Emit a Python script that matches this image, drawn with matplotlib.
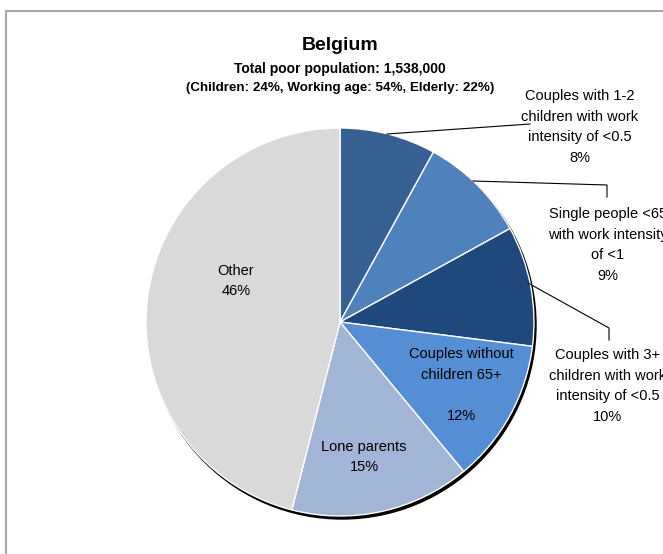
import matplotlib.pyplot as plt
from matplotlib.patches import Circle, Rectangle

plt.rcParams['font.family'] = ['Liberation Sans', 'DejaVu Sans']

# data
groups = ["Couples with 1-2\nchildren with work\nintensity of <0.5",
          "Single people <65\nwith work intensity\nof <1",
          "Couples with 3+\nchildren with work\nintensity of <0.5",
          "Couples without\nchildren 65+\n",
          "Lone parents",
          "Other"]
shares = [8, 9, 10, 12, 15, 46]
colors = ["#366092", "#4f81bd", "#1f497d", "#558ed5", "#a3b5d6", "#d9d9d9"]

W, H = 663, 554
fig = plt.figure(figsize=(W / 100, H / 100), dpi=100)
ax = fig.add_axes([0, 0, 1, 1])
ax.set_xlim(0, W)
ax.set_ylim(0, H)
ax.set_aspect('equal')
ax.axis('off')

# pixel helpers (y measured from top)
def P(x, y):
    return (x, H - y)

cx, cy = P(340, 322)
r = 194

# outer frame (clipped by the image edge on the right/bottom)
ax.add_patch(Rectangle((6, -20), 800, H - 11 + 20, fill=False,
                       edgecolor="#a6a6a6", lw=1.5))

# shadow
ax.add_patch(Circle((cx + 2, cy - 3), r, color="black", zorder=1))

wedges, _ = ax.pie(shares, colors=colors, startangle=90, counterclock=False,
                   center=(cx, cy), radius=r,
                   wedgeprops=dict(edgecolor="white", linewidth=1))
for w in wedges:
    w.set_zorder(2)
ax.set_xlim(0, W)
ax.set_ylim(0, H)

# titles
ax.text(*P(340, 45), "Belgium", ha="center", va="center",
        fontsize=14, fontweight="bold")
ax.text(*P(340, 69), "Total poor population: 1,538,000", ha="center",
        va="center", fontsize=10, fontweight="bold")
ax.text(*P(340, 88), "(Children: 24%, Working age: 54%, Elderly: 22%)",
        ha="center", va="center", fontsize=9.6, fontweight="bold")

lab = dict(ha="center", va="center", fontsize=10.5, linespacing=1.58, zorder=5)

# outside labels
ax.text(*P(580, 127), groups[0] + "\n%d%%" % shares[0], **lab)
ax.text(*P(608, 245), groups[1] + "\n%d%%" % shares[1], **lab)
ax.text(*P(608, 386), groups[2] + "\n%d%%" % shares[2], **lab)

# leader lines
lk = dict(color="black", lw=0.8, zorder=4)
ax.plot(*zip(P(387, 134), P(530, 124)), **lk)
ax.plot(*zip(P(473, 181), P(607, 185), P(607, 197)), **lk)
ax.plot(*zip(P(528, 283), P(609, 328), P(609, 340)), **lk)

# inside labels
ax.text(*P(461, 385), groups[3] + "\n%d%%" % shares[3], **lab)
ax.text(*P(364, 457), groups[4] + "\n%d%%" % shares[4], **lab)
ax.text(*P(236, 281), groups[5] + "\n%d%%" % shares[5], **lab)

fig.savefig("out.png", dpi=100)
